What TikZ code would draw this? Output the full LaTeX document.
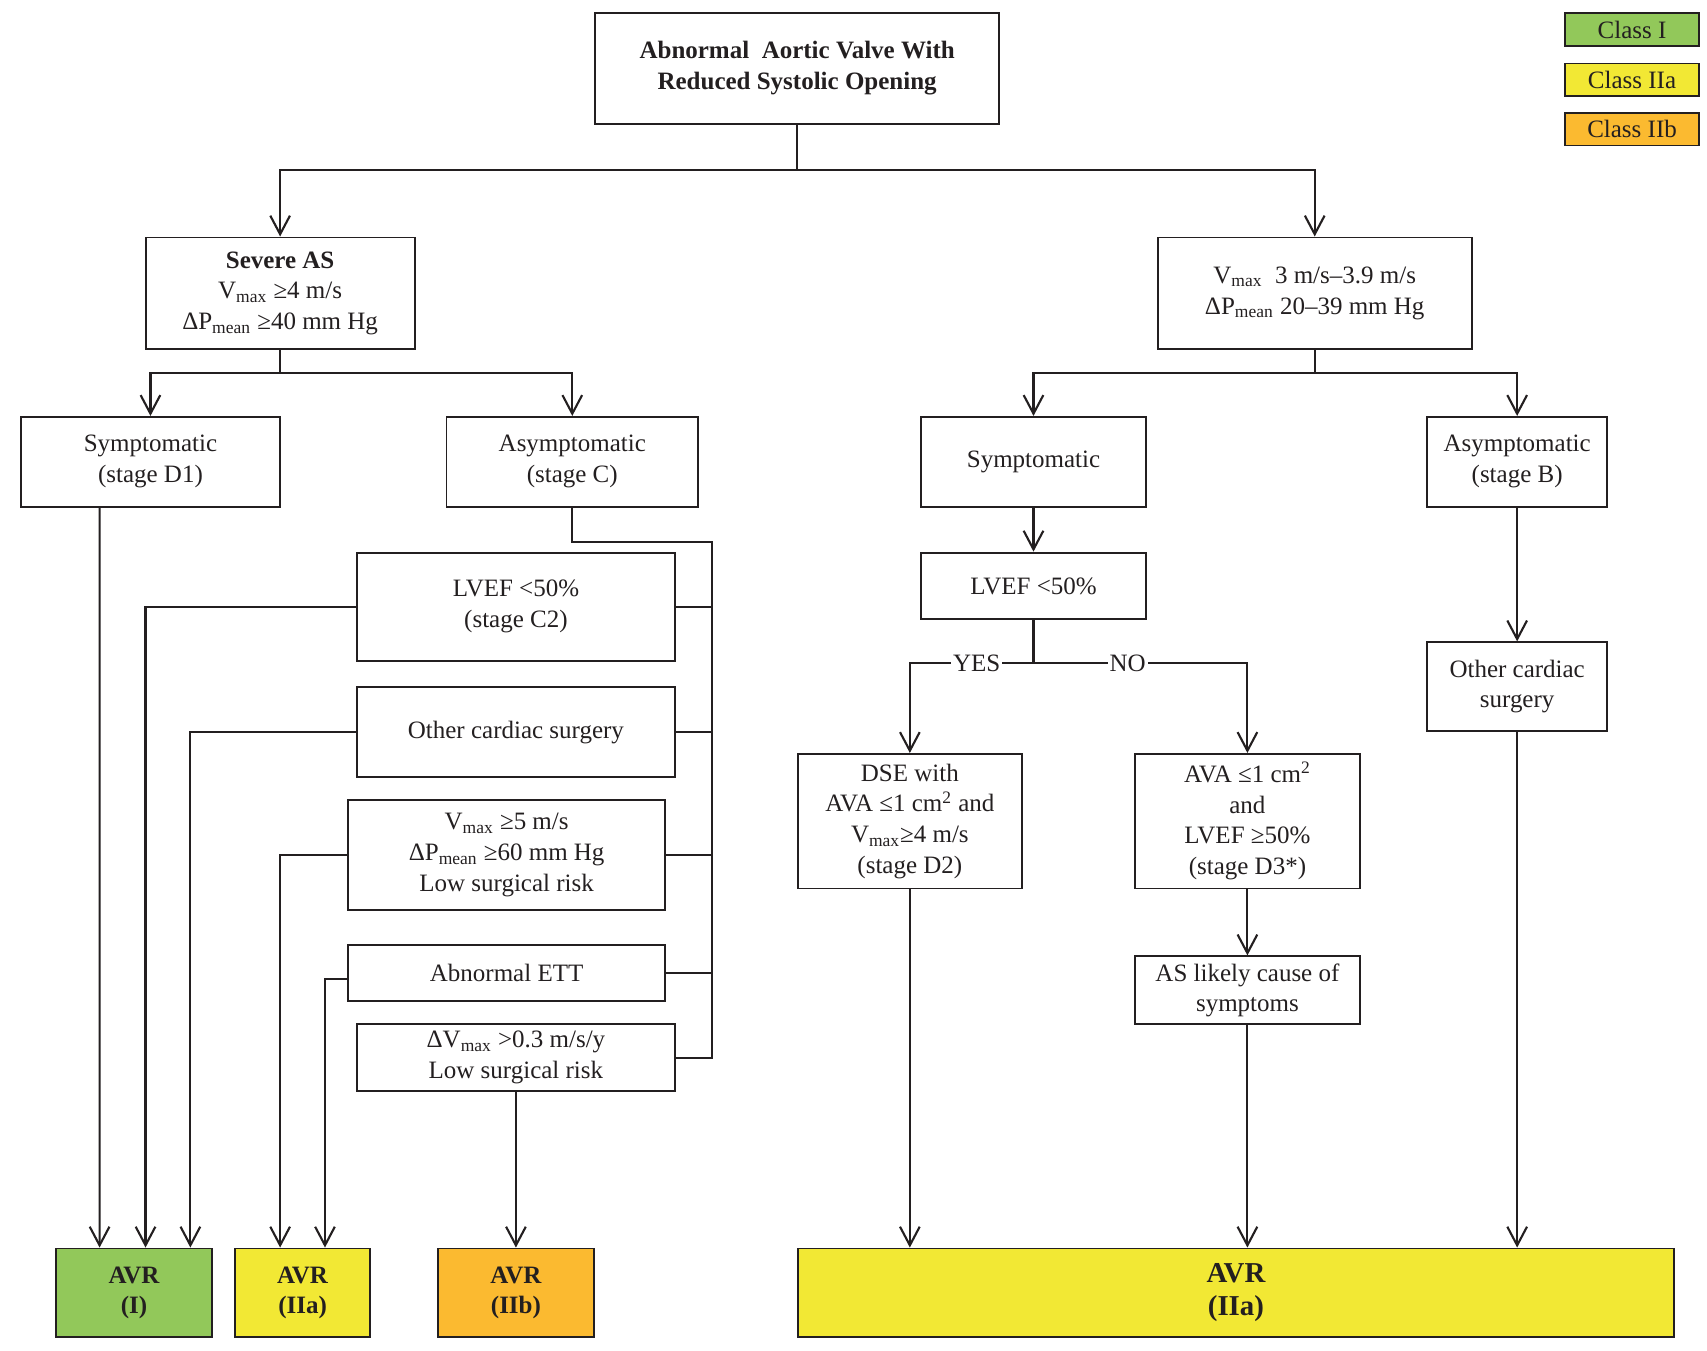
\documentclass[tikz,border=0pt]{standalone}
\usepackage{fontspec}
\setmainfont{Liberation Serif}
\usetikzlibrary{arrows.meta}
\definecolor{classI}{RGB}{146,200,90}
\definecolor{classIIa}{RGB}{242,232,52}
\definecolor{classIIb}{RGB}{251,186,48}
\definecolor{ink}{RGB}{35,31,32}
\tikzset{
	box/.style={draw=ink, line width=1pt, align=center, inner sep=0pt, font=\fontsize{13}{16}\selectfont},
	avrbox/.style={box, font=\fontsize{13}{16}\selectfont\bfseries},
	arr/.style={-{Straight Barb[length=3.4mm,width=3.6mm]}},
	lbl/.style={fill=white, inner sep=1pt, font=\fontsize{13}{16}\selectfont},
}
\begin{document}
\begin{tikzpicture}[x=0.02cm, y=-0.02cm, line width=1.1pt, color=ink]
	\useasboundingbox (0,0) rectangle (1560,1234);

	% top and first split
	\node[box, font=\fontsize{13}{16}\selectfont\bfseries, minimum width=73.8mm, minimum height=20.2mm] (top) at (728.5,62.5) {Abnormal\ \ Aortic Valve With\\Reduced Systolic Opening};
	\node[box, minimum width=49.2mm, minimum height=20.4mm] (sev) at (256,268) {\textbf{Severe AS}\\V\textsubscript{max} ≥4 m/s\\ΔP\textsubscript{mean} ≥40 mm Hg};
	\node[box, minimum width=57.4mm, minimum height=20.4mm] (mod) at (1201.5,268) {V\textsubscript{max}\ \ 3 m/s–3.9 m/s\\ΔP\textsubscript{mean} 20–39 mm Hg};

	\node[box, minimum width=47.4mm, minimum height=16.4mm] (symD1) at (137.5,422) {Symptomatic\\(stage D1)};
	\node[box, minimum width=46mm, minimum height=16.4mm] (asyC) at (523,422) {Asymptomatic\\(stage C)};
	\node[box, minimum width=41mm, minimum height=16.4mm] (symR) at (944.5,422) {Symptomatic};
	\node[box, minimum width=33mm, minimum height=16.4mm] (asyB) at (1386.5,422) {Asymptomatic\\(stage B)};

	% right branch
	\node[box, minimum width=41mm, minimum height=12.2mm] (lvefR) at (944.5,535.5) {LVEF <50\%};
	\node[box, minimum width=41mm, minimum height=24.6mm] (dse) at (831.5,750.5) {DSE with\\AVA ≤1 cm\textsuperscript{2} and\\V\textsubscript{max}≥4 m/s\\(stage D2)};
	\node[box, minimum width=41.2mm, minimum height=24.6mm] (ava) at (1140,750.5) {AVA ≤1 cm\textsuperscript{2}\\and\\LVEF ≥50\%\\(stage D3*)};
	\node[box, minimum width=41.2mm, minimum height=12.4mm] (likely) at (1140,905) {AS likely cause of\\symptoms};
	\node[box, minimum width=33mm, minimum height=16.2mm] (otherB) at (1386.5,627.5) {Other cardiac\\surgery};

	% left branch
	\node[box, minimum width=58.2mm, minimum height=19.8mm] (lvefC) at (471.5,554.5) {LVEF <50\%\\(stage C2)};
	\node[box, minimum width=58.2mm, minimum height=16.4mm] (otherC) at (471.5,669) {Other cardiac surgery};
	\node[box, minimum width=58mm, minimum height=20.2mm] (fast) at (463,781.5) {V\textsubscript{max} ≥5 m/s\\ΔP\textsubscript{mean} ≥60 mm Hg\\Low surgical risk};
	\node[box, minimum width=58mm, minimum height=10.2mm] (ett) at (463,889.5) {Abnormal ETT};
	\node[box, minimum width=58.2mm, minimum height=12.2mm] (prog) at (471.5,966.5) {ΔV\textsubscript{max} >0.3 m/s/y\\Low surgical risk};

	% AVR boxes
	\node[avrbox, fill=classI, minimum width=28.6mm, minimum height=16.2mm] (avrI) at (122.5,1181.5) {AVR\\(I)};
	\node[avrbox, fill=classIIa, minimum width=24.6mm, minimum height=16.2mm] (avrIIa) at (276.5,1181.5) {AVR\\(IIa)};
	\node[avrbox, fill=classIIb, minimum width=28.6mm, minimum height=16.2mm] (avrIIb) at (471.5,1181.5) {AVR\\(IIb)};
	\node[box, fill=classIIa, font=\fontsize{15}{17}\selectfont\bfseries, minimum width=160.2mm, minimum height=16.2mm] (avrR) at (1129.5,1181.5) {AVR\\(IIa)};

	% legend
	\node[box, fill=classI, minimum width=24.6mm, minimum height=6mm] (legI) at (1491.5,27) {Class I};
	\node[box, fill=classIIa, minimum width=24.6mm, minimum height=6mm] (legIIa) at (1491.5,73) {Class IIa};
	\node[box, fill=classIIb, minimum width=24.6mm, minimum height=6mm] (legIIb) at (1491.5,118) {Class IIb};

	% connectors
	\coordinate (j1) at (728.5,155);
	\draw (top) -- (j1);
	\draw[arr] (j1) -| (sev);
	\draw[arr] (j1) -| (mod);

	\coordinate (j2) at (256,341);
	\draw (sev) -- (j2);
	\draw[arr] (j2) -| (symD1);
	\draw[arr] (j2) -| (asyC);

	\coordinate (j3) at (1201.5,341);
	\draw (mod) -- (j3);
	\draw[arr] (j3) -| (symR);
	\draw[arr] (j3) -| (asyB);

	\draw[arr] (symR) -- (lvefR);
	\coordinate (j4) at (944.5,606);
	\draw (lvefR) -- (j4);
	\draw[arr] (j4) -| node[lbl, pos=0.23] {YES} (dse);
	\draw[arr] (j4) -| node[lbl, pos=0.22] {NO} (ava);
	\draw[arr] (ava) -- (likely);
	\draw[arr] (asyB) -- (otherB);
	\draw[arr] (dse) -- (dse |- avrR.north);
	\draw[arr] (likely) -- (likely |- avrR.north);
	\draw[arr] (otherB) -- (otherB |- avrR.north);

	\coordinate (bus) at (651,495);
	\draw (asyC) |- (bus) -- (bus |- prog.east) -- (prog.east);
	\foreach \n in {lvefC,otherC,fast,ett}
		\draw (\n.east) -- (\n.east -| bus);

	\draw[arr] ([xshift=-9.3mm]symD1.south) -- ([xshift=-6.3mm]avrI.north);
	\draw[arr] (lvefC.west) -| ([xshift=2.1mm]avrI.north);
	\draw[arr] (otherC.west) -| ([xshift=10.3mm]avrI.north);
	\draw[arr] (fast.west) -| ([xshift=-4.1mm]avrIIa.north);
	\draw[arr] ([yshift=-1.1mm]ett.west) -| ([xshift=4.1mm]avrIIa.north);
	\draw[arr] (prog) -- (avrIIb);
\end{tikzpicture}
\end{document}
